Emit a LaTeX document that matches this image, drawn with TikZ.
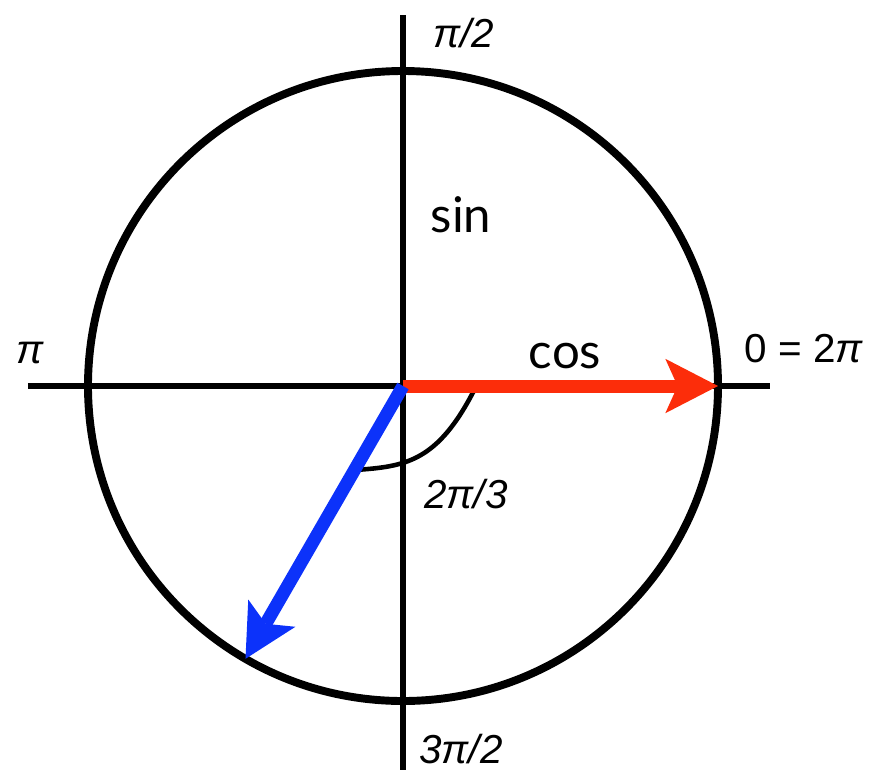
\documentclass[tikz,border=0pt]{standalone}
\usepackage{fontspec}
\setmainfont{Liberation Sans}
\newfontfamily\trigfont{Lato}
\usetikzlibrary{arrows.meta}
\definecolor{cosred}{RGB}{252,45,10}
\definecolor{angleblue}{RGB}{12,50,250}

\begin{document}
\begin{tikzpicture}[
      axis/.style={line width=3pt,black},
      unitcircle/.style={line width=4.5pt,black},
      vec/.style={line width=7.4pt,-{Stealth[length=30pt,width=31pt,inset=7pt,line width=0pt]}},
      anglemark/.style={line width=2.6pt,black},
      lbl/.style={font=\fontsize{23}{26}\selectfont\itshape,anchor=base,inner sep=0pt},
      fnlbl/.style={font=\fontsize{28}{32}\selectfont\trigfont,anchor=base,inner sep=0pt}]
      \useasboundingbox (-8.06,-7.74) rectangle (9.38,7.72);
      % Points
      \coordinate (O)     at (0,0);
      \coordinate (west)  at (-7.5,0);
      \coordinate (east)  at (7.34,0);
      \coordinate (north) at (0,7.42);
      \coordinate (south) at (0,-7.68);
      \coordinate (cosend) at (0:6.3);
      \coordinate (vecend) at (240:6.3);

      % Axes and circle
      \draw[axis] (west) -- (east);
      \draw[axis] (north) -- (south);
      \draw[unitcircle] (O) circle (6.3);

      % Angle mark
      \draw[anglemark] (1.44,-0.05) .. controls (0.69,-1.53) and (0.04,-1.61) .. (-0.96,-1.68);

      % Vectors
      \draw[vec,cosred]    (O) -- (cosend);
      \draw[vec,angleblue] (O) -- (vecend);

      % Labels
      \node[lbl]   (halfpi)  at (1.22,6.78)   {π/2};
      \node[lbl]   (pi)      at (-7.46,0.46)  {π};
      \node[lbl,font=\fontsize{23}{26}\selectfont] (zero) at (8.02,0.48) {0 = 2\textit{π}};
      \node[lbl]   (threepi) at (1.16,-7.54)  {3π/2};
      \node[lbl]   (angle)   at (1.26,-2.44)  {2π/3};
      \node[fnlbl] (sin)     at (1.16,3.08)   {sin};
      \node[fnlbl] (cos)     at (3.24,0.36)   {cos};
\end{tikzpicture}
\end{document}
